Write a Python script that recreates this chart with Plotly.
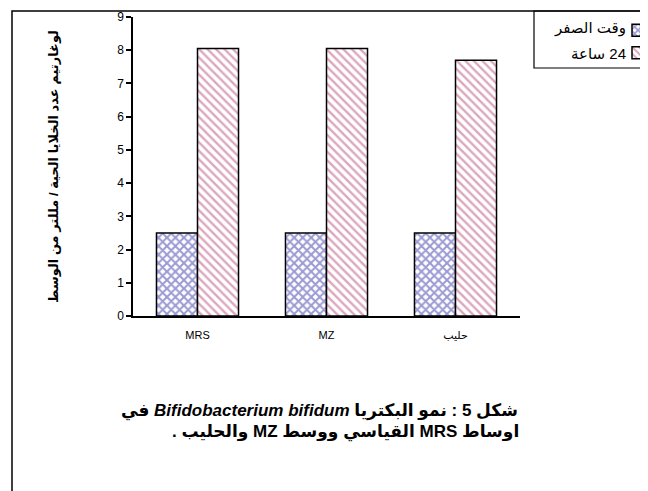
import plotly.graph_objects as go

categories = ["MRS", "MZ", "حليب"]
series_names = ["وقت الصفر", "24 ساعة"]
time0_values = [2.5, 2.5, 2.5]
time24_values = [8.05, 8.05, 7.7]
y_ticks = list(range(0, 10))
y_title = "لوغارتيم عدد الخلايا الحية / مللتر من الوسط"
caption_line1 = "شكل 5 : نمو البكتريا <i>Bifidobacterium bifidum</i> في"
caption_line2 = "اوساط MRS القياسي ووسط MZ والحليب ."

RLE, PDF = "\u202B", "\u202C"

# page body has an 8px margin: figure coords = screen coords - 8
OFF = 8
W, H = 670, 499
L, T = 133 - OFF, 17 - OFF
PR, PB = 520 - OFF, 316 - OFF
R, B = W - PR, H - PB
pw, ph = PR - L, PB - T


def px_x(p):
    return (p - OFF - L) / pw


def px_y(p):
    return (PB - (p - OFF)) / ph


FONT = "Arial, Liberation Sans, DejaVu Sans"

fig = go.Figure()
fig.add_trace(go.Bar(
    x=categories, y=time0_values, name=" ",
    marker=dict(color="white", line=dict(color="black", width=1.5),
                pattern=dict(shape="x", fgcolor="#3434a8", bgcolor="white", size=6, solidity=0.55)),
))
fig.add_trace(go.Bar(
    x=categories, y=time24_values, name=" ",
    marker=dict(color="white", line=dict(color="black", width=1.5),
                pattern=dict(shape="\\", fgcolor="#b8507a", bgcolor="white", size=6, solidity=0.4)),
))

fig.update_layout(
    width=W, height=H,
    margin=dict(l=L, r=R, t=T, b=B),
    paper_bgcolor="white", plot_bgcolor="white",
    barmode="group", bargap=0.364, bargroupgap=0,
    font=dict(family=FONT, color="black"),
    showlegend=True,
    legend=dict(
        xref="container", yref="container",
        x=610 / W, y=1 - 6 / H, xanchor="left", yanchor="top",
        bgcolor="rgba(0,0,0,0)", borderwidth=0,
        font=dict(size=15), itemwidth=30,
    ),
    xaxis=dict(
        automargin=False,
        showline=True, linecolor="black", linewidth=1.5,
        ticks="", tickfont=dict(size=11), ticklabelstandoff=8,
        showgrid=False, zeroline=False,
    ),
    yaxis=dict(
        automargin=False,
        range=[0, 9], tickvals=y_ticks, showline=True, linecolor="black", linewidth=1.5,
        ticks="outside", ticklen=5, tickwidth=1.5, tickcolor="black",
        tickfont=dict(size=12), showgrid=False, zeroline=False,
        title=dict(text="<b>" + y_title + "</b>", font=dict(size=13), standoff=56),
    ),
)

# outer frame
fig.add_shape(type="rect", xref="paper", yref="paper",
              x0=px_x(12), x1=px_x(720), y0=px_y(580), y1=px_y(11),
              line=dict(color="black", width=1.5), fillcolor="rgba(0,0,0,0)", layer="below")
# legend box
fig.add_shape(type="rect", xref="paper", yref="paper",
              x0=px_x(534), x1=px_x(720), y0=px_y(68), y1=px_y(11),
              line=dict(color="black", width=1.2), fillcolor="rgba(0,0,0,0)")

for i, name in enumerate(series_names):
    fig.add_annotation(xref="paper", yref="paper", x=px_x(628), y=px_y(28 + 25 * i),
                       text=RLE + name + PDF, showarrow=False, xanchor="right", yanchor="middle",
                       font=dict(size=15, family=FONT))

fig.add_annotation(xref="paper", yref="paper", x=px_x(319), y=px_y(411),
                   text="<b>" + RLE + caption_line1 + PDF + "</b>", showarrow=False,
                   xanchor="center", yanchor="middle", font=dict(size=17))
fig.add_annotation(xref="paper", yref="paper", x=px_x(345), y=px_y(432),
                   text="<b>" + RLE + caption_line2 + PDF + "</b>", showarrow=False,
                   xanchor="center", yanchor="middle", font=dict(size=17))

fig.write_html("out.html")
